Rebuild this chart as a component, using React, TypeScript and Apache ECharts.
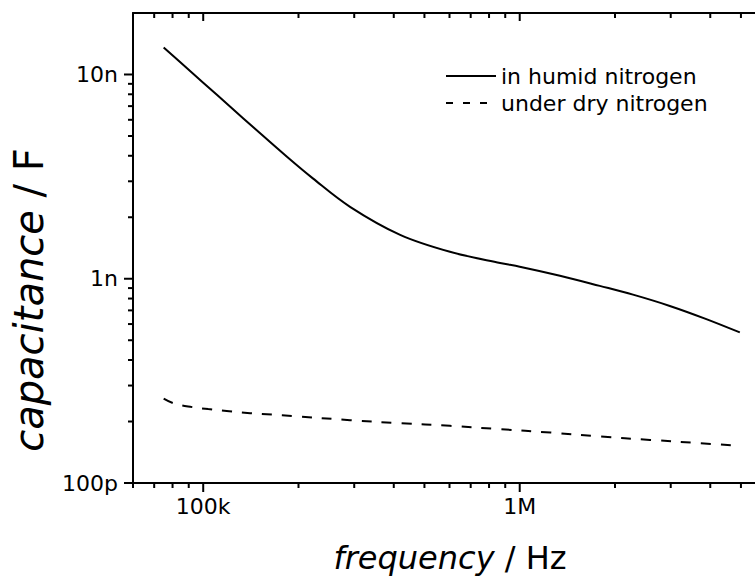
import React, { useEffect, useRef } from "react";
import * as echarts from "echarts";

// ---- data ----
const freqHumid = [75e3, 85e3, 100e3, 122e3, 147e3, 182e3, 222e3, 291e3, 419e3, 602e3, 867e3, 1.0e6, 1.34e6, 1.79e6, 2.28e6, 2.98e6, 3.85e6, 4.96e6];
const capHumid = [13.55e-9, 11.4e-9, 9.12e-9, 6.93e-9, 5.36e-9, 4.01e-9, 3.1e-9, 2.25e-9, 1.64e-9, 1.355e-9, 1.194e-9, 1.146e-9, 1.035e-9, 0.923e-9, 0.836e-9, 0.736e-9, 0.638e-9, 0.546e-9];

const freqDry = [75e3, 80.4e3, 89.6e3, 103.7e3, 120.8e3, 140.7e3, 165e3, 191e3, 291e3, 419e3, 602e3, 867e3, 1.25e6, 1.79e6, 2.58e6, 3.71e6, 4.96e6];
const capDry = [259e-12, 246e-12, 237e-12, 230e-12, 224.6e-12, 219.8e-12, 216.2e-12, 213e-12, 203e-12, 196.2e-12, 190.5e-12, 183.4e-12, 176.6e-12, 168.9e-12, 162.6e-12, 156.7e-12, 152e-12];

const seriesNames = ["in humid nitrogen", "under dry nitrogen"];

const xMajorTicks = [1e5, 1e6];
const xTickLabels = ["100k", "1M"];
const xMinorBottom = [6e4, 7e4, 8e4, 9e4, 2e5, 3e5, 4e5, 5e5, 6e5, 7e5, 8e5, 9e5, 2e6, 3e6, 4e6, 5e6];
const xMinorTop = [7e4, 8e4, 9e4, 2e5, 3e5, 4e5, 5e5, 6e5, 7e5, 8e5, 9e5, 2e6, 3e6, 4e6, 5e6];

const yMajorTicks = [1e-10, 1e-9, 1e-8];
const yTickLabels = ["100p", "1n", "10n"];
const yMinorTicks = [2e-10, 3e-10, 4e-10, 5e-10, 6e-10, 7e-10, 8e-10, 9e-10, 2e-9, 3e-9, 4e-9, 5e-9, 6e-9, 7e-9, 8e-9, 9e-9];

const X_MIN = 6e4;
const X_MAX = 6e6;
const Y_MIN = 1e-10;
const Y_MAX = 2e-8;

const FONT = "DejaVu Sans";

function labelFor(v: number, ticks: number[], labels: string[]) {
  const i = ticks.findIndex((m) => Math.abs(Math.log10(v) - Math.log10(m)) < 1e-6);
  return i >= 0 ? labels[i] : "";
}

// tick marks drawn through the chart's own log scales
function tickSeries(values: number[], side: "bottom" | "top" | "left", len: number) {
  return {
    type: "custom",
    xAxisIndex: 0,
    yAxisIndex: 0,
    silent: true,
    clip: false,
    z: 5,
    data: values.map((v) => (side === "left" ? [X_MIN, v] : [v, side === "top" ? Y_MAX : Y_MIN])),
    renderItem: (_params: any, api: any) => {
      const p = api.coord([api.value(0), api.value(1)]);
      let shape;
      if (side === "left") shape = { x1: p[0], y1: p[1], x2: p[0] - len, y2: p[1] };
      else shape = { x1: p[0], y1: p[1], x2: p[0], y2: p[1] + len }; // bottom: outward (down); top: inward (down)
      return { type: "line", shape, style: { stroke: "#000", lineWidth: 2 } };
    },
  };
}

export default function App() {
  const ref = useRef<HTMLDivElement>(null);

  useEffect(() => {
    if (!ref.current) return;
    const chart = echarts.init(ref.current, null, { renderer: "svg" });

    const black = "#000";
    const noSplit = { splitLine: { show: false }, minorTick: { show: false }, minorSplitLine: { show: false } };
    const baseX = { type: "log", min: X_MIN, max: X_MAX, logBase: 10, ...noSplit };
    const baseY = { type: "log", min: Y_MIN, max: Y_MAX, logBase: 10, ...noSplit };

    const option: any = {
      animation: false,
      backgroundColor: "#fff",
      grid: { left: 133, top: 13, width: 633, height: 470, outerBoundsMode: "none", containLabel: false },
      legend: {
        orient: "vertical",
        left: 445,
        top: 65,
        padding: 0,
        itemWidth: 50,
        itemHeight: 14,
        itemGap: 5,
        itemStyle: { opacity: 0 },
        textStyle: { fontSize: 22, fontFamily: FONT, color: black },
        data: [
          { name: seriesNames[0] },
          { name: seriesNames[1], lineStyle: { type: [7, 10] } },
        ],
      },
      xAxis: [
        {
          ...baseX,
          position: "bottom",
          axisLine: { show: true, lineStyle: { color: black, width: 2 } },
          axisTick: { show: false },
          axisLabel: {
            show: true,
            customValues: xMajorTicks,
            margin: 12,
            fontSize: 22,
            fontFamily: FONT,
            color: black,
            formatter: (v: number) => labelFor(v, xMajorTicks, xTickLabels),
          },
        },
        {
          ...baseX,
          position: "top",
          axisLine: { show: true, lineStyle: { color: black, width: 2 } },
          axisTick: { show: false },
          axisLabel: { show: false },
        },
      ],
      yAxis: [
        {
          ...baseY,
          position: "left",
          axisLine: { show: true, lineStyle: { color: black, width: 2 } },
          axisTick: { show: false },
          axisLabel: {
            show: true,
            customValues: yMajorTicks,
            margin: 15,
            fontSize: 22,
            fontFamily: FONT,
            color: black,
            formatter: (v: number) => labelFor(v, yMajorTicks, yTickLabels),
          },
        },
      ],
      series: [
        {
          name: seriesNames[0],
          type: "line",
          xAxisIndex: 0,
          yAxisIndex: 0,
          symbol: "none",
          smooth: 0.35,
          lineStyle: { color: black, width: 2, type: "solid" },
          itemStyle: { color: black },
          data: freqHumid.map((f, i) => [f, capHumid[i]]),
        },
        {
          name: seriesNames[1],
          type: "line",
          xAxisIndex: 0,
          yAxisIndex: 0,
          symbol: "none",
          smooth: 0.35,
          lineStyle: { color: black, width: 2, type: [10, 10] },
          itemStyle: { color: black },
          data: freqDry.map((f, i) => [f, capDry[i]]),
        },
        tickSeries(xMajorTicks, "bottom", 9),
        tickSeries(xMinorBottom, "bottom", 5),
        tickSeries(xMajorTicks, "top", 8),
        tickSeries(xMinorTop, "top", 5),
        tickSeries(yMajorTicks, "left", 9),
        tickSeries(yMinorTicks, "left", 5),
      ],
      graphic: [
        {
          type: "text",
          x: 450,
          y: 558,
          style: {
            text: "{i|frequency} / Hz",
            fontSize: 32,
            fontFamily: FONT,
            fill: black,
            align: "center",
            verticalAlign: "middle",
            textAlign: "center",
            textVerticalAlign: "middle",
            rich: { i: { fontStyle: "italic", fontSize: 32, fontFamily: FONT, fill: black } },
          },
        },
        {
          type: "text",
          x: 29,
          y: 300,
          rotation: Math.PI / 2,
          style: {
            text: "{i|capacitance} / F",
            fontSize: 40,
            fontFamily: FONT,
            fill: black,
            align: "center",
            verticalAlign: "middle",
            textAlign: "center",
            textVerticalAlign: "middle",
            rich: { i: { fontStyle: "italic", fontSize: 40, fontFamily: FONT, fill: black } },
          },
        },
      ],
    };

    chart.setOption(option);
    return () => chart.dispose();
  }, []);

  return (
    <div
      ref={ref}
      style={{ position: "absolute", left: 0, top: 0, width: 755, height: 576, background: "#fff" }}
    />
  );
}
